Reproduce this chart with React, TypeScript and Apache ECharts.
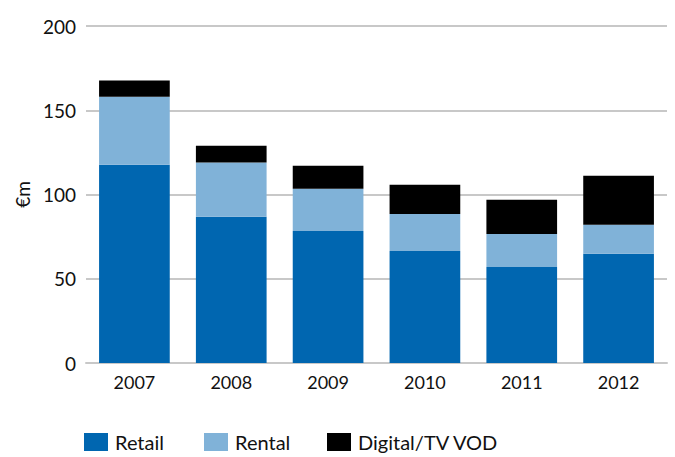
import React, { useEffect, useRef } from "react";
import * as echarts from "echarts";

const years = ["2007", "2008", "2009", "2010", "2011", "2012"];
const retail = [117.6, 86.8, 78.4, 66.5, 57.0, 64.8];
const rental = [40.4, 32.2, 25.0, 22.0, 19.6, 17.2];
const digital = [9.6, 10.0, 13.6, 17.3, 20.3, 29.1];
const yTicks = { min: 0, max: 200, interval: 50 };
const seriesNames = ["Retail", "Rental", "Digital/TV VOD"];
const seriesColors = ["#0066b0", "#80b2d8", "#000000"];

const FONT = "Lato";

export default function App() {
  const ref = useRef<HTMLDivElement>(null);
  useEffect(() => {
    if (!ref.current) return;
    const chart = echarts.init(ref.current, null, { renderer: "svg" });
    const mk = (name: string, data: number[], color: string) => ({
      name,
      type: "bar",
      stack: "total",
      data,
      barCategoryGap: "27%",
      itemStyle: { color },
      emphasis: { disabled: true },
    });
    const legendLefts = [84, 204, 327];
    chart.setOption({
      animation: false,
      textStyle: { fontFamily: FONT },
      grid: { left: 86, right: 8, top: 26, bottom: 94, containLabel: false },
      xAxis: {
        type: "category",
        data: years,
        axisLine: { show: true, lineStyle: { color: "#c8c8c8", width: 2 } },
        axisTick: { show: false },
        axisLabel: { color: "#111", fontSize: 18, fontFamily: FONT, margin: 10 },
      },
      yAxis: {
        type: "value",
        min: yTicks.min,
        max: yTicks.max,
        interval: yTicks.interval,
        name: "€m",
        nameLocation: "middle",
        nameGap: 52,
        nameRotate: 90,
        nameTextStyle: { color: "#111", fontSize: 19, fontFamily: FONT },
        axisLine: { show: false },
        axisTick: { show: false },
        axisLabel: { color: "#111", fontSize: 19, fontFamily: FONT, margin: 10 },
        splitLine: { lineStyle: { color: "#c8c8c8", width: 2 } },
      },
      legend: seriesNames.map((n, i) => ({
        left: legendLefts[i],
        top: 432,
        padding: 0,
        icon: "rect",
        itemWidth: 24,
        itemHeight: 18,
        itemGap: 8,
        textStyle: {
          color: "#111",
          fontSize: 20,
          lineHeight: 20,
          fontFamily: FONT,
          padding: [0, 0, 0, 2],
        },
        data: [n],
      })),
      series: [
        mk(seriesNames[0], retail, seriesColors[0]),
        mk(seriesNames[1], rental, seriesColors[1]),
        mk(seriesNames[2], digital, seriesColors[2]),
      ],
    });
    return () => chart.dispose();
  }, []);
  return <div ref={ref} style={{ width: 675, height: 457, position: "absolute", left: 0, top: 0 }} />;
}
